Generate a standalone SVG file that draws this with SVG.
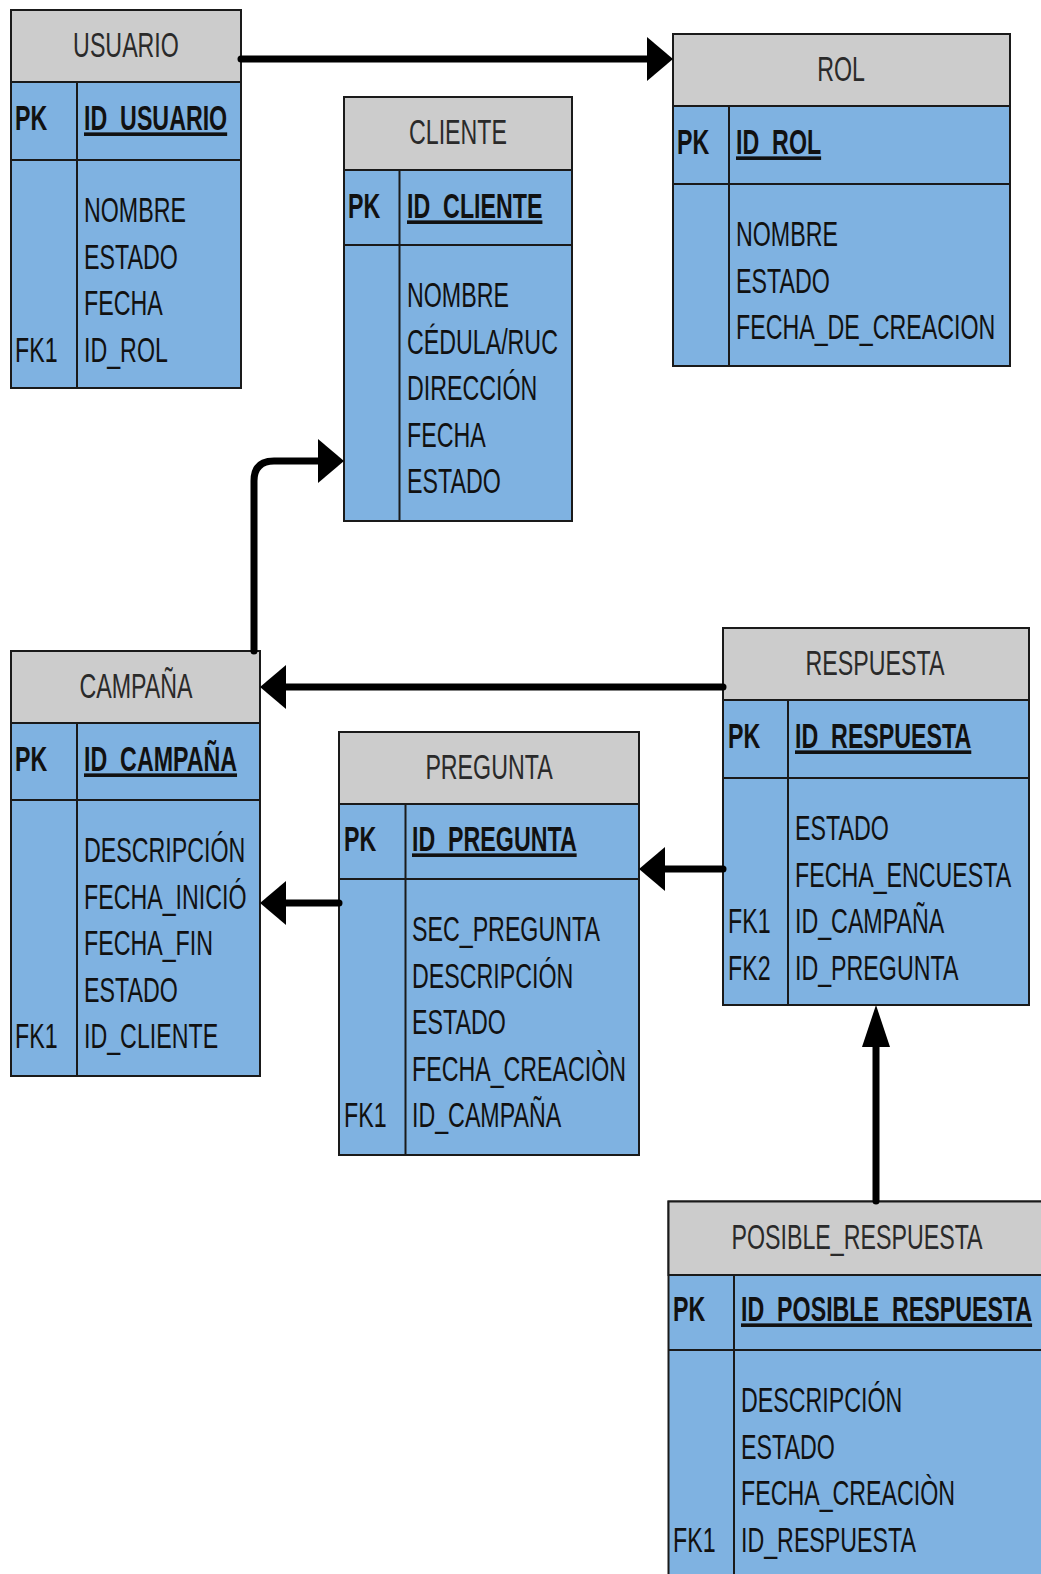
<svg xmlns="http://www.w3.org/2000/svg" width="1041" height="1574" viewBox="0 0 1041 1574">
<defs>
<style>
.hd{fill:#cccccc;stroke:#1a1a1a;stroke-width:2}
.bd{fill:#7fb2e1;stroke:#1a1a1a;stroke-width:2}
.ln{stroke:#1a1a1a;stroke-width:2;fill:none}
text{font-family:"Liberation Sans",Arial,sans-serif;font-size:36px;fill:#111}
.t{text-anchor:middle;fill:#2a2a2a}
.pk{font-weight:bold}
.id{font-weight:bold;text-decoration:underline}
.c{fill:none;stroke:#000;stroke-width:7;stroke-linecap:round;stroke-linejoin:round}
</style>
<marker id="ah" markerUnits="userSpaceOnUse" viewBox="0 0 26 44" refX="6" refY="22" markerWidth="26" markerHeight="44" orient="auto">
<path d="M0,0 L26,22 L0,44 Z" fill="#000"/>
</marker>
<marker id="av" markerUnits="userSpaceOnUse" viewBox="0 0 42 28" refX="8" refY="14" markerWidth="42" markerHeight="28" orient="auto">
<path d="M0,0 L42,14 L0,28 Z" fill="#000"/>
</marker>
</defs>

<g id="usuario">
<rect class="bd" x="11" y="10" width="230" height="378"/>
<rect class="hd" x="11" y="10" width="230" height="72"/>
<line class="ln" x1="11" y1="160" x2="241" y2="160"/>
<line class="ln" x1="77" y1="82" x2="77" y2="388"/>
<text class="t" transform="matrix(0.645 0 0 1 126 57)">USUARIO</text>
<text class="pk" transform="matrix(0.645 0 0 1 15 130)">PK</text>
<text class="id" transform="matrix(0.645 0 0 1 84 130)">ID_USUARIO</text>
<text transform="matrix(0.645 0 0 1 84 222)">NOMBRE</text>
<text transform="matrix(0.645 0 0 1 84 268.5)">ESTADO</text>
<text transform="matrix(0.645 0 0 1 84 315)">FECHA</text>
<text transform="matrix(0.645 0 0 1 84 361.5)">ID_ROL</text>
<text transform="matrix(0.645 0 0 1 15 361.5)">FK1</text>
</g>

<g id="rol">
<rect class="bd" x="673" y="34" width="337" height="332"/>
<rect class="hd" x="673" y="34" width="337" height="72"/>
<line class="ln" x1="673" y1="184" x2="1010" y2="184"/>
<line class="ln" x1="729" y1="106" x2="729" y2="366"/>
<text class="t" transform="matrix(0.645 0 0 1 841 81)">ROL</text>
<text class="pk" transform="matrix(0.645 0 0 1 677 154)">PK</text>
<text class="id" transform="matrix(0.645 0 0 1 736 154)">ID_ROL</text>
<text transform="matrix(0.645 0 0 1 736 246)">NOMBRE</text>
<text transform="matrix(0.645 0 0 1 736 292.5)">ESTADO</text>
<text transform="matrix(0.645 0 0 1 736 339)">FECHA_DE_CREACION</text>
</g>

<g id="cliente">
<rect class="bd" x="344" y="97" width="228" height="424"/>
<rect class="hd" x="344" y="97" width="228" height="73"/>
<line class="ln" x1="344" y1="245" x2="572" y2="245"/>
<line class="ln" x1="399.5" y1="170" x2="399.5" y2="521"/>
<text class="t" transform="matrix(0.645 0 0 1 458 144)">CLIENTE</text>
<text class="pk" transform="matrix(0.645 0 0 1 348 218)">PK</text>
<text class="id" transform="matrix(0.645 0 0 1 407 218)">ID_CLIENTE</text>
<text transform="matrix(0.645 0 0 1 407 307)">NOMBRE</text>
<text transform="matrix(0.645 0 0 1 407 353.5)">CÉDULA/RUC</text>
<text transform="matrix(0.645 0 0 1 407 400)">DIRECCIÓN</text>
<text transform="matrix(0.645 0 0 1 407 446.5)">FECHA</text>
<text transform="matrix(0.645 0 0 1 407 493)">ESTADO</text>
</g>

<g id="campana">
<rect class="bd" x="11" y="651" width="249" height="425"/>
<rect class="hd" x="11" y="651" width="249" height="72"/>
<line class="ln" x1="11" y1="800" x2="260" y2="800"/>
<line class="ln" x1="77" y1="723" x2="77" y2="1076"/>
<text class="t" transform="matrix(0.645 0 0 1 136 698)">CAMPAÑA</text>
<text class="pk" transform="matrix(0.645 0 0 1 15 771)">PK</text>
<text class="id" transform="matrix(0.645 0 0 1 84 771)">ID_CAMPAÑA</text>
<text transform="matrix(0.645 0 0 1 84 862)">DESCRIPCIÓN</text>
<text transform="matrix(0.645 0 0 1 84 908.5)">FECHA_INICIÓ</text>
<text transform="matrix(0.645 0 0 1 84 955)">FECHA_FIN</text>
<text transform="matrix(0.645 0 0 1 84 1001.5)">ESTADO</text>
<text transform="matrix(0.645 0 0 1 84 1048)">ID_CLIENTE</text>
<text transform="matrix(0.645 0 0 1 15 1048)">FK1</text>
</g>

<g id="pregunta">
<rect class="bd" x="339" y="732" width="300" height="423"/>
<rect class="hd" x="339" y="732" width="300" height="72"/>
<line class="ln" x1="339" y1="879" x2="639" y2="879"/>
<line class="ln" x1="405.5" y1="804" x2="405.5" y2="1155"/>
<text class="t" transform="matrix(0.645 0 0 1 489 779)">PREGUNTA</text>
<text class="pk" transform="matrix(0.645 0 0 1 344 851)">PK</text>
<text class="id" transform="matrix(0.645 0 0 1 412 851)">ID_PREGUNTA</text>
<text transform="matrix(0.645 0 0 1 412 941)">SEC_PREGUNTA</text>
<text transform="matrix(0.645 0 0 1 412 987.5)">DESCRIPCIÓN</text>
<text transform="matrix(0.645 0 0 1 412 1034)">ESTADO</text>
<text transform="matrix(0.645 0 0 1 412 1080.5)">FECHA_CREACIÒN</text>
<text transform="matrix(0.645 0 0 1 412 1127)">ID_CAMPAÑA</text>
<text transform="matrix(0.645 0 0 1 344 1127)">FK1</text>
</g>

<g id="respuesta">
<rect class="bd" x="723" y="628" width="306" height="377"/>
<rect class="hd" x="723" y="628" width="306" height="72"/>
<line class="ln" x1="723" y1="778" x2="1029" y2="778"/>
<line class="ln" x1="788" y1="700" x2="788" y2="1005"/>
<text class="t" transform="matrix(0.645 0 0 1 875 675)">RESPUESTA</text>
<text class="pk" transform="matrix(0.645 0 0 1 728 748)">PK</text>
<text class="id" transform="matrix(0.645 0 0 1 795 748)">ID_RESPUESTA</text>
<text transform="matrix(0.645 0 0 1 795 840)">ESTADO</text>
<text transform="matrix(0.645 0 0 1 795 886.5)">FECHA_ENCUESTA</text>
<text transform="matrix(0.645 0 0 1 795 933)">ID_CAMPAÑA</text>
<text transform="matrix(0.645 0 0 1 795 979.5)">ID_PREGUNTA</text>
<text transform="matrix(0.645 0 0 1 728 933)">FK1</text>
<text transform="matrix(0.645 0 0 1 728 979.5)">FK2</text>
</g>

<g id="posible_respuesta">
<rect class="bd" x="668.5" y="1201.5" width="380" height="400"/>
<rect class="hd" x="668.5" y="1201.5" width="380" height="73.5"/>
<line class="ln" x1="668.5" y1="1350" x2="1048" y2="1350"/>
<line class="ln" x1="734" y1="1275" x2="734" y2="1600"/>
<text class="t" transform="matrix(0.645 0 0 1 857 1249)">POSIBLE_RESPUESTA</text>
<text class="pk" transform="matrix(0.645 0 0 1 673 1321)">PK</text>
<text class="id" transform="matrix(0.645 0 0 1 741 1321)">ID_POSIBLE_RESPUESTA</text>
<text transform="matrix(0.645 0 0 1 741 1412)">DESCRIPCIÓN</text>
<text transform="matrix(0.645 0 0 1 741 1458.5)">ESTADO</text>
<text transform="matrix(0.645 0 0 1 741 1505)">FECHA_CREACIÒN</text>
<text transform="matrix(0.645 0 0 1 741 1551.5)">ID_RESPUESTA</text>
<text transform="matrix(0.645 0 0 1 673 1551.5)">FK1</text>
</g>

<g id="connectors">
<path class="c" d="M241,59 L653,59" marker-end="url(#ah)"/>
<path class="c" d="M254,651 L254,481 Q254,461 274,461 L324,461" marker-end="url(#ah)"/>
<path class="c" d="M723,687 L280,687" marker-end="url(#ah)"/>
<path class="c" d="M339,903 L280,903" marker-end="url(#ah)"/>
<path class="c" d="M723,869 L659,869" marker-end="url(#ah)"/>
<path class="c" d="M876,1201 L876,1039" marker-end="url(#av)"/>
</g>
</svg>
